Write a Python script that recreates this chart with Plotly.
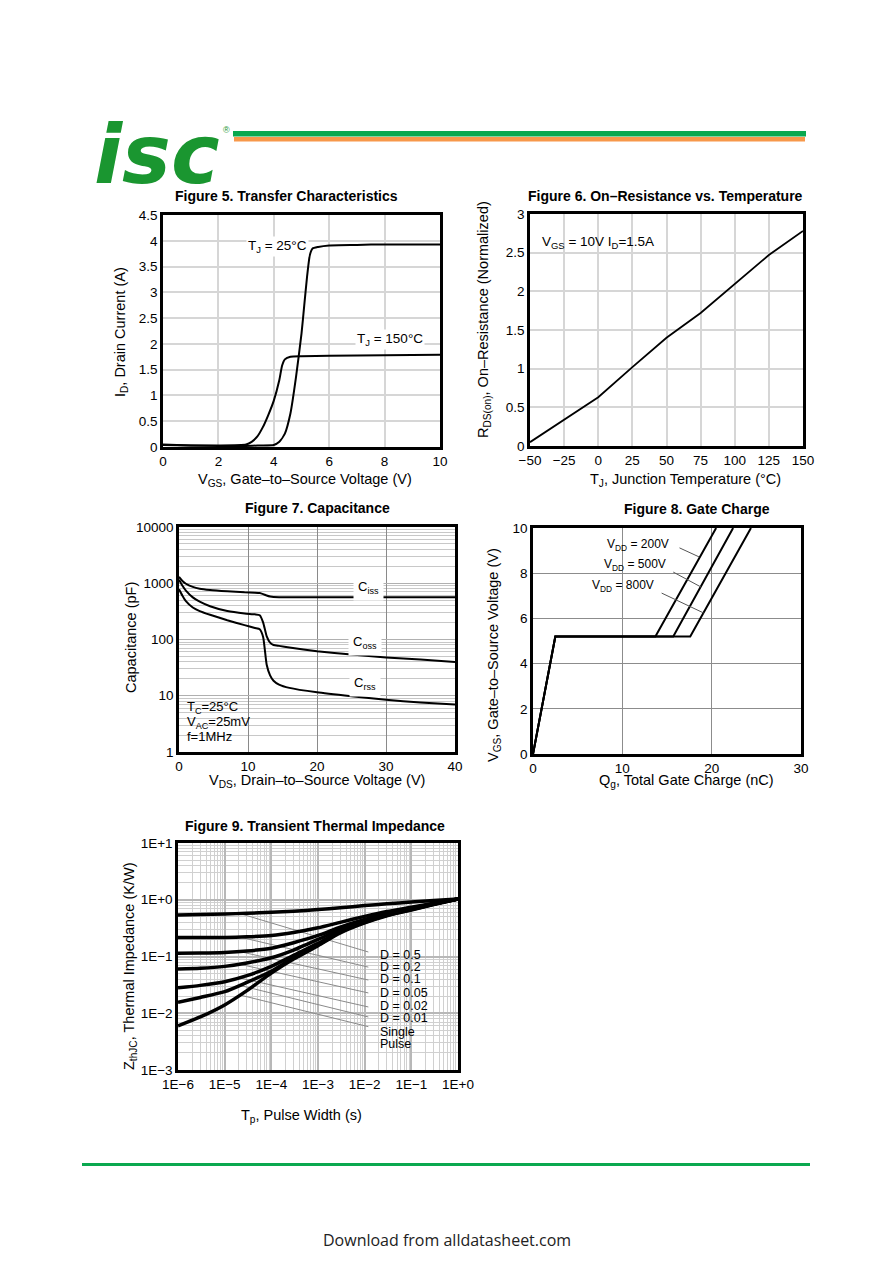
import plotly.graph_objects as go

W, H = 892, 1261
OFF = 8  # page body margin of the html wrapper
FONT = "Liberation Sans, Arial, sans-serif"

# ---- Figure 5: transfer characteristics
vgs_25 = [0, 0.5, 1, 2, 3, 3.5, 4.0, 4.2, 4.4, 4.6, 4.8, 5.0, 5.1, 5.2, 5.3, 5.4, 5.6, 6, 7, 8, 10]
id_25 = [0.05, 0.04, 0.03, 0.02, 0.02, 0.03, 0.04, 0.1, 0.26, 0.65, 1.35, 2.2, 2.75, 3.3, 3.72, 3.85, 3.88, 3.91, 3.92, 3.93, 3.93]
vgs_150 = [0, 1, 2, 3, 3.2, 3.4, 3.6, 3.8, 4.0, 4.2, 4.3, 4.4, 4.6, 5, 6, 8, 10]
id_150 = [0.04, 0.03, 0.03, 0.05, 0.1, 0.2, 0.38, 0.62, 0.9, 1.3, 1.58, 1.70, 1.75, 1.76, 1.77, 1.78, 1.79]

# ---- Figure 6: on-resistance vs temperature
tj = [-50, -25, 0, 25, 50, 75, 100, 125, 150]
rds = [0.05, 0.34, 0.63, 1.02, 1.40, 1.72, 2.09, 2.47, 2.78]

# ---- Figure 7: capacitance
vds = [0, 0.5, 1, 2, 3, 4.5, 7, 9.5, 11, 11.7, 12.2, 12.7, 13.2, 13.7, 14.5, 16, 20, 25, 30, 35, 40]
ciss = [1300, 1100, 980, 860, 800, 760, 720, 690, 680, 670, 640, 605, 580, 568, 565, 565, 565, 565, 565, 565, 565]
coss = [1150, 900, 740, 560, 470, 390, 320, 290, 280, 270, 200, 115, 88, 80, 77, 72, 62, 54, 48, 44, 40]
crss = [780, 600, 480, 370, 320, 275, 220, 180, 160, 152, 110, 36, 23, 18.5, 15.8, 13.8, 11.5, 9.8, 8.5, 7.6, 7.0]

# ---- Figure 8: gate charge
qg_200 = [0, 2.5, 13.7, 20.5]
qg_500 = [0, 2.5, 15.7, 22.4]
qg_800 = [0, 2.5, 17.6, 24.4]
vgs_gc = [0, 5.2, 5.2, 10]

# ---- Figure 9: transient thermal impedance
tp = [1e-6, 3e-6, 1e-5, 3e-5, 1e-4, 3e-4, 1e-3, 3e-3, 1e-2, 3e-2, 1e-1, 3e-1, 1]
zth = {
    "D = 0.5": [0.54, 0.55, 0.56, 0.58, 0.60, 0.63, 0.67, 0.72, 0.79, 0.85, 0.91, 0.97, 1.03],
    "D = 0.2": [0.216, 0.216, 0.216, 0.222, 0.235, 0.265, 0.32, 0.40, 0.51, 0.62, 0.74, 0.87, 1.03],
    "D = 0.1": [0.114, 0.115, 0.118, 0.125, 0.14, 0.175, 0.235, 0.33, 0.45, 0.57, 0.70, 0.85, 1.03],
    "D = 0.05": [0.060, 0.062, 0.067, 0.077, 0.095, 0.13, 0.20, 0.30, 0.43, 0.56, 0.69, 0.84, 1.03],
    "D = 0.02": [0.028, 0.031, 0.036, 0.046, 0.067, 0.105, 0.17, 0.28, 0.41, 0.54, 0.68, 0.84, 1.03],
    "D = 0.01": [0.0156, 0.019, 0.024, 0.035, 0.055, 0.095, 0.16, 0.27, 0.40, 0.53, 0.67, 0.83, 1.03],
    "Single Pulse": [0.0060, 0.0086, 0.014, 0.025, 0.051, 0.090, 0.155, 0.26, 0.39, 0.52, 0.66, 0.82, 1.03],
}
lead_start_y = [0.573, 0.22, 0.122, 0.073, 0.042, 0.031, 0.021]
lead_end_y = [0.120, 0.065, 0.0385, 0.0228, 0.0129, 0.0086, 0.0058]
zth_labels = ["D = 0.5", "D = 0.2", "D = 0.1", "D = 0.05", "D = 0.02", "D = 0.01", "Single", "Pulse"]
label_y = [-0.974, -1.185, -1.396, -1.643, -1.872, -2.084, -2.33, -2.54]
x_dec_labels = ["1E−6", "1E−5", "1E−4", "1E−3", "1E−2", "1E−1", "1E+0"]
y_dec_labels = ["1E−3", "1E−2", "1E−1", "1E+0", "1E+1"]


def pxx(x):
    return (x - OFF) / W


def pxy(y):
    return 1 - (y - OFF) / H


def box(x0, x1, y0, y1):
    return [pxx(x0), pxx(x1)], [pxy(y1), pxy(y0)]


fig = go.Figure()

fig.add_trace(go.Scatter(x=vgs_25, y=id_25, mode="lines", line=dict(color="black", width=2, shape="spline", smoothing=0.5), xaxis="x", yaxis="y"))
fig.add_trace(go.Scatter(x=vgs_150, y=id_150, mode="lines", line=dict(color="black", width=2, shape="spline", smoothing=0.5), xaxis="x", yaxis="y"))

fig.add_trace(go.Scatter(x=tj, y=rds, mode="lines", line=dict(color="black", width=1.8), xaxis="x2", yaxis="y2"))

for c in (ciss, coss, crss):
    fig.add_trace(go.Scatter(x=vds, y=c, mode="lines", line=dict(color="black", width=2, shape="spline", smoothing=0.5), xaxis="x3", yaxis="y3"))

for q in (qg_200, qg_500, qg_800):
    fig.add_trace(go.Scatter(x=q, y=vgs_gc, mode="lines", line=dict(color="black", width=2), xaxis="x4", yaxis="y4"))

# gate charge leader lines
gc_leads = [([16.4, 18.6], [9.12, 8.72]), ([15.7, 18.8], [8.05, 7.39]), ([14.4, 19.1], [7.12, 6.24])]
for lx, ly in gc_leads:
    fig.add_trace(go.Scatter(x=lx, y=ly, mode="lines", line=dict(color="#555555", width=1), xaxis="x4", yaxis="y4"))

# thermal impedance leader lines (drawn under curves)
for ys, ye in zip(lead_start_y, lead_end_y):
    fig.add_trace(go.Scatter(x=[2.1e-5, 1.2e-2], y=[ys, ye], mode="lines", line=dict(color="#8a8a8a", width=1), xaxis="x5", yaxis="y5"))
for name, z in zth.items():
    fig.add_trace(go.Scatter(x=tp, y=z, mode="lines", line=dict(color="black", width=3.5, shape="spline", smoothing=0.6), xaxis="x5", yaxis="y5"))


def ax(domain, anchor, gridcolor="#d6d6d6", gridwidth=1.5, **kw):
    d = dict(domain=domain, anchor=anchor, showline=True, linecolor="black", linewidth=2.5,
             mirror=True, ticks="", zeroline=False, showgrid=True, gridcolor=gridcolor,
             gridwidth=gridwidth, automargin=False, tickfont=dict(size=13.5, color="black", family=FONT))
    d.update(kw)
    return d


dx5, dy5 = box(163, 440, 215, 447)
dx6, dy6 = box(530, 803, 214, 446)
dx7, dy7 = box(179, 455, 527, 752)
dx8, dy8 = box(533, 801, 528, 754)
dx9, dy9 = box(178, 458, 843, 1070)

minor_x = [m * 10 ** e for e in range(-6, 0) for m in range(2, 10)]
minor_y = [m * 10 ** e for e in range(-3, 1) for m in range(2, 10)]
minor_c = [m * 10 ** e for e in range(0, 4) for m in range(2, 10)]

layout = dict(
    template="none",
    width=W, height=H, showlegend=False, paper_bgcolor="white", plot_bgcolor="white",
    margin=dict(l=0, r=0, t=0, b=0, autoexpand=False), font=dict(family=FONT, color="black", size=13),
    xaxis=ax(dx5, "y", range=[0, 10], dtick=2),
    yaxis=ax(dy5, "x", range=[0, 4.5], dtick=0.5),
    xaxis2=ax(dx6, "y2", range=[-50, 150], dtick=25),
    yaxis2=ax(dy6, "x2", range=[0, 3], dtick=0.5),
    xaxis3=ax(dx7, "y3", range=[0, 40], dtick=10, gridcolor="#8a8a8a", gridwidth=1),
    yaxis3=ax(dy7, "x3", type="log", range=[0, 4], dtick=1, tickformat="d", gridcolor="#b0b0b0", gridwidth=1,
              minor=dict(tickvals=minor_c, showgrid=True, gridcolor="#c8c8c8", gridwidth=1, ticks="")),
    xaxis4=ax(dx8, "y4", range=[0, 30], dtick=10, gridcolor="#8c8c8c", gridwidth=1),
    yaxis4=ax(dy8, "x4", range=[0, 10], dtick=2, gridcolor="#8c8c8c", gridwidth=1),
    xaxis5=ax(dx9, "y5", type="log", range=[-6, 0], tickvals=[10 ** e for e in range(-6, 1)], ticktext=x_dec_labels,
              gridcolor="#b8b8b8", gridwidth=1.5,
              minor=dict(tickvals=minor_x, showgrid=True, gridcolor="#d0d0d0", gridwidth=1, ticks="")),
    yaxis5=ax(dy9, "x5", type="log", range=[-3, 1], tickvals=[10 ** e for e in range(-3, 2)], ticktext=y_dec_labels,
              gridcolor="#b8b8b8", gridwidth=1.5,
              minor=dict(tickvals=minor_y, showgrid=True, gridcolor="#d0d0d0", gridwidth=1, ticks="")),
)
fig.update_layout(**layout)

ann = []


def paper_text(text, x, y, size=14, angle=0, bold=False, **kw):
    t = "<b>%s</b>" % text if bold else text
    ann.append(dict(text=t, x=pxx(x), y=pxy(y), xref="paper", yref="paper", showarrow=False,
                    xanchor="center", yanchor="middle",
                    textangle=angle, font=dict(size=size, color="black", family=FONT), **kw))


# figure titles
paper_text("Figure 5. Transfer Characteristics", 286, 196, 14, bold=True)
paper_text("Figure 6. On–Resistance vs. Temperature", 665, 196, 14, bold=True)
paper_text("Figure 7. Capacitance", 317, 508, 14, bold=True)
paper_text("Figure 8. Gate Charge", 697, 509, 14, bold=True)
paper_text("Figure 9. Transient Thermal Impedance", 315, 826, 14, bold=True)

# axis titles
paper_text("I<sub>D</sub>, Drain Current (A)", 121, 332, 14.5, angle=-90)
paper_text("V<sub>GS</sub>, Gate–to–Source Voltage (V)", 305, 480, 14.5)
paper_text("R<sub>DS(on)</sub>, On–Resistance (Normalized)", 484, 320, 14.5, angle=-90)
paper_text("T<sub>J</sub>, Junction Temperature (°C)", 685, 480, 14.5)
paper_text("Capacitance (pF)", 131, 638, 14.5, angle=-90)
paper_text("V<sub>DS</sub>, Drain–to–Source Voltage (V)", 317, 781, 14.5)
paper_text("V<sub>GS</sub>, Gate–to–Source Voltage (V)", 494, 655, 14.5, angle=-90)
paper_text("Q<sub>g</sub>, Total Gate Charge (nC)", 686, 781, 14.5)
paper_text("Z<sub>thJC</sub>, Thermal Impedance (K/W)", 130, 966, 14.5, angle=-90)
paper_text("T<sub>p</sub>, Pulse Width (s)", 301, 1116, 14.5)


def data_text(text, x, y, xr, yr, size=13, xanchor="center", **kw):
    ann.append(dict(text=text, x=x, y=y, xref=xr, yref=yr, showarrow=False, xanchor=xanchor, yanchor="middle",
                    font=dict(size=size, color="black", family=FONT), **kw))


data_text("T<sub>J</sub> = 25°C", 4.12, 3.88, "x", "y", size=13.5, bgcolor="white")
data_text("T<sub>J</sub> = 150°C", 8.2, 2.09, "x", "y", size=13.5, bgcolor="white")
data_text("V<sub>GS</sub> = 10V I<sub>D</sub>=1.5A", -42.7, 2.63, "x2", "y2", size=13.5, xanchor="left")
data_text("C<sub>iss</sub>", 27.4, 2.92, "x3", "y3", bgcolor="white", borderpad=4)
data_text("C<sub>oss</sub>", 27.0, 1.94, "x3", "y3", bgcolor="white", borderpad=4)
data_text("C<sub>rss</sub>", 27.0, 1.21, "x3", "y3", bgcolor="white", borderpad=4)
for txt, ly in zip(["T<sub>C</sub>=25°C", "V<sub>AC</sub>=25mV", "f=1MHz"], [0.80, 0.533, 0.267]):
    data_text(txt, 0.9, ly, "x3", "y3", xanchor="left")
data_text("V<sub>DD</sub> = 200V", 11.8, 9.25, "x4", "y4", size=12)
data_text("V<sub>DD</sub> = 500V", 11.4, 8.36, "x4", "y4", size=12)
data_text("V<sub>DD</sub> = 800V", 10.1, 7.43, "x4", "y4", size=12)
for name, ly in zip(zth_labels, label_y):
    data_text(name, -1.714, ly, "x5", "y5", size=12.5, xanchor="left")

# header logo
ann.append(dict(text="<b><i>isc</i></b>", x=pxx(157), y=pxy(154), xref="paper", yref="paper", showarrow=False,
                xanchor="center", yanchor="middle",
                font=dict(size=82, color="#1a9630", family="DejaVu Sans, sans-serif")))
ann.append(dict(text="®", x=pxx(226), y=pxy(130), xref="paper", yref="paper", showarrow=False,
                xanchor="center", yanchor="middle",
                font=dict(size=9, color="#1a9630", family=FONT)))
ann.append(dict(text="Download from alldatasheet.com", x=pxx(447), y=pxy(1240), xref="paper", yref="paper",
                showarrow=False, xanchor="center", yanchor="middle",
                font=dict(size=16, color="#222222", family="Open Sans, sans-serif")))

shapes = [
    dict(type="rect", xref="paper", yref="paper", x0=pxx(233), x1=pxx(806), y0=pxy(136.5), y1=pxy(131),
         fillcolor="#0aa84f", line=dict(width=0)),
    dict(type="rect", xref="paper", yref="paper", x0=pxx(234), x1=pxx(805), y0=pxy(141.5), y1=pxy(137),
         fillcolor="#f7984a", line=dict(width=0)),
    dict(type="rect", xref="paper", yref="paper", x0=pxx(82), x1=pxx(810), y0=pxy(1166), y1=pxy(1163),
         fillcolor="#0aa84f", line=dict(width=0)),
    dict(type="rect", xref="paper", yref="paper", x0=pxx(368), x1=pxx(440), y0=pxy(1062), y1=pxy(937),
         fillcolor="white", line=dict(width=0), layer="between"),
]

fig.update_layout(annotations=ann, shapes=shapes)
fig.write_html("out.html")
